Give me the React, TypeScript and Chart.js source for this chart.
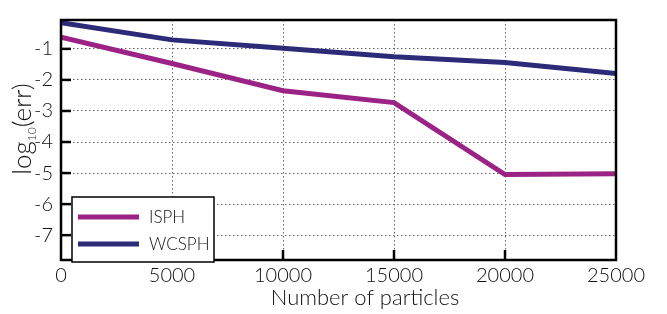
import React, { useEffect, useRef } from "react";
import { Chart, registerables } from "chart.js";

Chart.register(...registerables);

const particles = [0, 5000, 10000, 15000, 20000, 25000];
const isphErr = [-0.62, -1.47, -2.35, -2.73, -5.05, -5.02];
const wcsphErr = [-0.16, -0.71, -0.98, -1.25, -1.44, -1.79];
const seriesNames = ["ISPH", "WCSPH"];
const seriesColors = ["#9c2386", "#2b2b78"];
const xTitle = "Number of particles";

const FONT = "Lato, 'Open Sans', sans-serif";
const W = "300";

const decorPlugin = {
  id: "decor",
  afterDraw(chart: any) {
    const { ctx, chartArea } = chart;
    const { left, right, top, bottom } = chartArea;
    const xs = chart.scales.x;
    const ys = chart.scales.y;
    ctx.save();
    // inward ticks
    ctx.strokeStyle = "#000";
    ctx.lineWidth = 2.5;
    ctx.setLineDash([]);
    ys.ticks.forEach((t: any) => {
      const y = ys.getPixelForValue(t.value);
      if (y <= top + 1 || y >= bottom - 1) return;
      ctx.beginPath();
      ctx.moveTo(left, y);
      ctx.lineTo(left + 10, y);
      ctx.stroke();
    });
    xs.ticks.forEach((t: any) => {
      const x = xs.getPixelForValue(t.value);
      if (x <= left + 1 || x >= right - 1) return;
      ctx.beginPath();
      ctx.moveTo(x, bottom);
      ctx.lineTo(x, bottom - 10);
      ctx.stroke();
    });
    // frame
    ctx.lineWidth = 2.5;
    ctx.strokeRect(left, top, right - left, bottom - top);

    // legend box
    const lx = left + 11, ly = top + 177, lw = 142, lh = 65;
    ctx.fillStyle = "#fff";
    ctx.fillRect(lx, ly, lw, lh);
    ctx.lineWidth = 1.5;
    ctx.strokeRect(lx, ly, lw, lh);
    const rows = [ly + 20, ly + 47];
    ctx.font = `${W} 17px ${FONT}`;
    ctx.textBaseline = "middle";
    ctx.textAlign = "left";
    seriesNames.forEach((n, i) => {
      ctx.strokeStyle = seriesColors[i];
      ctx.lineWidth = 5;
      ctx.beginPath();
      ctx.moveTo(lx + 6, rows[i]);
      ctx.lineTo(lx + 67, rows[i]);
      ctx.stroke();
      ctx.fillStyle = "#111";
      ctx.fillText(n, lx + 77, rows[i] + 1);
    });

    // x title
    ctx.fillStyle = "#111";
    ctx.font = `${W} 22px ${FONT}`;
    ctx.textAlign = "center";
    ctx.textBaseline = "middle";
    ctx.fillText(xTitle, 365, 298);

    // y title with subscript
    ctx.translate(23, 129);
    ctx.rotate(-Math.PI / 2);
    const big = `${W} 26px ${FONT}`;
    const small = `${W} 12px ${FONT}`;
    ctx.font = big;
    const w1 = ctx.measureText("log").width;
    const w3 = ctx.measureText("(err)").width;
    ctx.font = small;
    const w2 = ctx.measureText("10").width;
    const total = w1 + w2 + w3;
    let x0 = -total / 2;
    ctx.textAlign = "left";
    ctx.textBaseline = "alphabetic";
    ctx.font = big;
    ctx.fillText("log", x0, 8);
    ctx.font = small;
    ctx.fillText("10", x0 + w1, 13);
    ctx.font = big;
    ctx.fillText("(err)", x0 + w1 + w2, 8);
    ctx.restore();
  },
};

export default function App() {
  const ref = useRef<HTMLCanvasElement | null>(null);
  useEffect(() => {
    document.body.style.margin = "0";
    const canvas = ref.current!;
    const chart = new Chart(canvas, {
      type: "line",
      data: {
        datasets: [
          {
            label: seriesNames[0],
            data: particles.map((x, i) => ({ x, y: isphErr[i] })),
            borderColor: seriesColors[0],
            backgroundColor: seriesColors[0],
            borderWidth: 5,
            pointRadius: 0,
            tension: 0,
          },
          {
            label: seriesNames[1],
            data: particles.map((x, i) => ({ x, y: wcsphErr[i] })),
            borderColor: seriesColors[1],
            backgroundColor: seriesColors[1],
            borderWidth: 5,
            pointRadius: 0,
            tension: 0,
          },
        ],
      },
      options: {
        responsive: false,
        animation: false,
        layout: { padding: { top: 7, right: 51, left: 0, bottom: 0 } },
        plugins: { legend: { display: false }, tooltip: { enabled: false } },
        scales: {
          x: {
            type: "linear",
            min: 0,
            max: 25000,
            ticks: {
              stepSize: 5000,
              color: "#111",
              font: { family: FONT, size: 20, weight: W },
              padding: 4,
              maxRotation: 0,
              callback: (v: any) => String(v),
            },
            grid: { color: "#666", lineWidth: 1, drawTicks: false },
            border: { display: false, dash: [1.5, 2.5] },
            afterFit: (s: any) => { s.height = 54; },
          },
          y: {
            type: "linear",
            min: -7.8,
            max: -0.07,
            afterBuildTicks: (axis: any) => {
              axis.ticks = axis.ticks.filter((t: any) => Number.isInteger(t.value));
            },
            ticks: {
              stepSize: 1,
              color: "#111",
              font: { family: FONT, size: 20, weight: W },
              padding: 8,
              callback: (v: any) => String(v),
            },
            grid: { color: "#666", lineWidth: 1, drawTicks: false },
            border: { display: false, dash: [1.5, 2.5] },
            afterFit: (s: any) => { s.width = 61; },
          },
        },
      },
      plugins: [decorPlugin],
    });
    return () => chart.destroy();
  }, []);
  return (
    <div style={{ position: "absolute", left: 0, top: 0, width: 667, height: 314, background: "#fff" }}>
      <canvas ref={ref} width={667} height={314} style={{ width: 667, height: 314, display: "block" }} />
    </div>
  );
}
